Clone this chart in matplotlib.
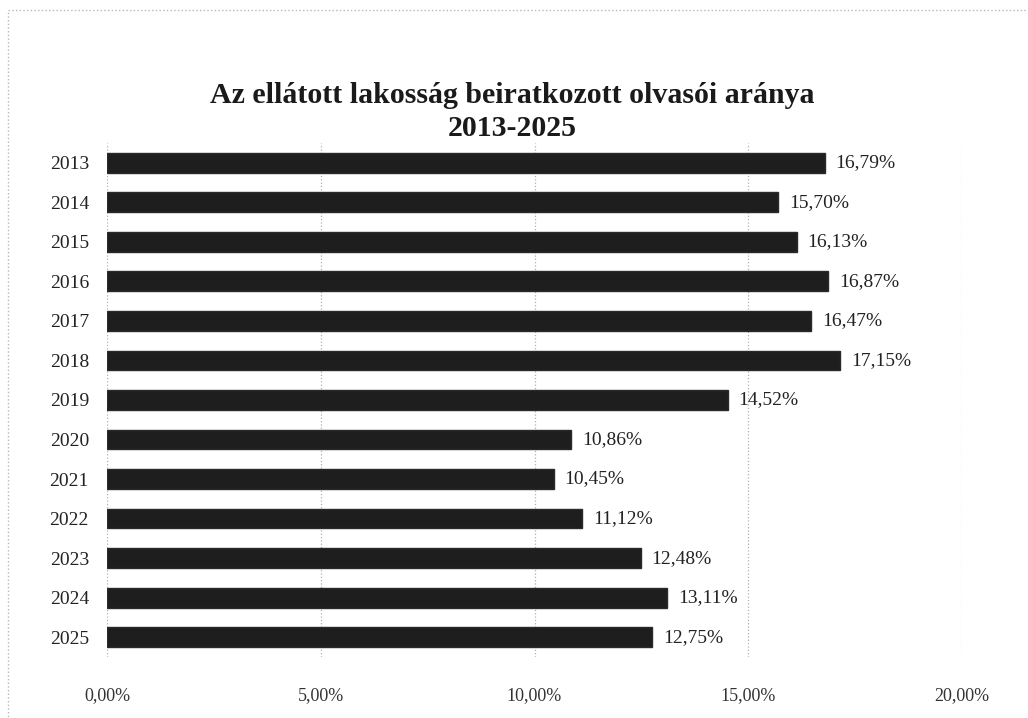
import matplotlib
matplotlib.use("Agg")
import matplotlib.pyplot as plt
from matplotlib.patches import Rectangle

years = ["2013", "2014", "2015", "2016", "2017", "2018", "2019",
         "2020", "2021", "2022", "2023", "2024", "2025"]
values = [16.79, 15.70, 16.13, 16.87, 16.47, 17.15, 14.52,
          10.86, 10.45, 11.12, 12.48, 13.11, 12.75]
x_ticks = [0, 5, 10, 15, 20]
title = "Az ellátott lakosság beiratkozott olvasói aránya\n2013-2025"

plt.rcParams['font.family'] = ['Liberation Serif', 'DejaVu Serif']

W, H = 1028, 718
fig = plt.figure(figsize=(W / 100, H / 100), dpi=100)
fig.patch.set_facecolor('white')

# axes in pixel coordinates
left, right, top, bottom = 107, 962, 143, 657
ax = fig.add_axes([left / W, 1 - bottom / H, (right - left) / W, (bottom - top) / H])

ypos = list(range(len(years)))
ax.barh(ypos, values, height=0.5, color='#1e1e1e', edgecolor='#2a2a2a', zorder=3)
ax.set_ylim(len(years) - 0.5, -0.5)
ax.set_xlim(0, 20)
ax.set_yticks(ypos)
ax.set_yticklabels(years, fontsize=14, color='#222222')
ax.set_xticks(x_ticks)
ax.set_xticklabels([f"{v:.2f}%".replace('.', ',') for v in x_ticks], fontsize=13, color='#333333')
ax.tick_params(axis='y', length=0, pad=13)
ax.tick_params(axis='x', length=0, pad=22)
for s in ax.spines.values():
    s.set_visible(False)
ax.grid(axis='x', color='#b0b0b0', linestyle=':', linewidth=0.9, zorder=0)
ax.grid(axis='y', visible=False)

for y, v in zip(ypos, values):
    ax.text(v + 0.25, y, f"{v:.2f}%".replace('.', ','), va='center', ha='left',
            fontsize=14, color='#222222')

fig.text(512 / W, 1 - 112 / H, title, ha='center', va='center', fontsize=21.5,
         fontweight='bold', color='#1a1a1a', linespacing=1.3)

# faint dotted border of the chart area
fig.add_artist(Rectangle((8 / W, -0.05), (W - 8) / W + 0.05, 1 - 10 / H + 0.05,
                         transform=fig.transFigure, fill=False, edgecolor='#b8b8b8',
                         linestyle=':', linewidth=1.0))

fig.savefig("out.png", dpi=100, facecolor='white')
